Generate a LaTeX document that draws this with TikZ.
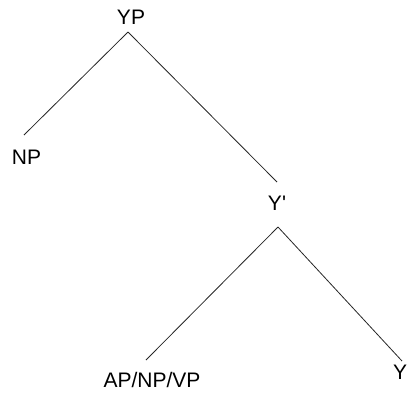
\documentclass[tikz,border=0pt]{standalone}
\usepackage{fontspec}
\setmainfont{Liberation Sans}
\begin{document}
\begin{tikzpicture}[x=1pt,y=-1pt,
  lbl/.style={inner sep=0pt, font=\fontsize{21}{21}\selectfont},
  edge/.style={draw=black!85, line width=0.8pt}]
\useasboundingbox (0,0) rectangle (411,392);
\node[lbl] (YP) at (131,17.5) {YP};
\node[lbl] (NP) at (26.5,157.5) {NP};
\node[lbl] (Ybar) at (277,203) {Y\textquotesingle};
\node[lbl] (AP) at (152,380) {AP/NP/VP};
\node[lbl] (Y) at (400,372) {Y};
\coordinate (ypb) at (128,32);
\coordinate (npt) at (24,135);
\coordinate (ybt) at (277,182);
\coordinate (ybb) at (278,227);
\coordinate (apt) at (146,360);
\coordinate (yt) at (402,361);
\draw[edge] (ypb) -- (npt);
\draw[edge] (ypb) -- (ybt);
\draw[edge] (ybb) -- (apt);
\draw[edge] (ybb) -- (yt);
\end{tikzpicture}
\end{document}
